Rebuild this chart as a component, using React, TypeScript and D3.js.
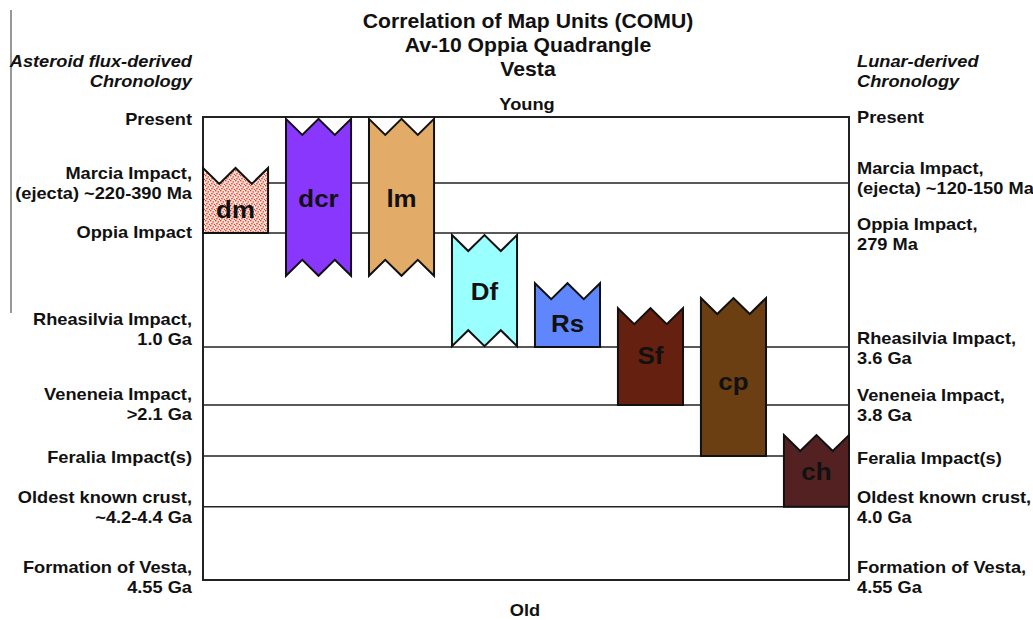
import * as d3 from "d3";

// relative age: 0 = Present (top), 100 = Formation of Vesta (bottom)
const levelAges = [0, 14.25, 25.05, 49.7, 62.2, 73.2, 84.2, 100];

const units = ["dm", "dcr", "lm", "Df", "Rs", "Sf", "cp", "ch"];
const unitTop = [11.0, 0.4, 0.4, 25.5, 35.9, 41.3, 39.1, 68.7];
const unitBottom = [25.05, 34.3, 34.3, 49.5, 49.7, 62.2, 73.2, 84.2];
const unitLabelAt = [19.9, 17.7, 17.7, 37.6, 44.5, 51.6, 57.2, 76.5];
const unitToothTop = [true, true, true, true, true, true, true, true];
const unitToothBottom = [false, true, true, true, false, false, false, false];
const unitColors = ["url(#stipple)", "#8936fd", "#e2ab67", "#99ffff", "#5f86fc", "#66200f", "#6b3f12", "#532121"];

const leftLabels = [
  ["Present"],
  ["Marcia Impact,", "(ejecta) ~220-390 Ma"],
  ["Oppia Impact"],
  ["Rheasilvia Impact,", "1.0 Ga"],
  ["Veneneia Impact,", ">2.1 Ga"],
  ["Feralia Impact(s)"],
  ["Oldest known crust,", "~4.2-4.4 Ga"],
  ["Formation of Vesta,", "4.55 Ga"],
];
const leftLabelAt = [1.73, 13.4, 26.1, 44.9, 61.1, 74.7, 83.4, 98.5];

const rightLabels = [
  ["Present"],
  ["Marcia Impact,", "(ejecta) ~120-150 Ma"],
  ["Oppia Impact,", "279 Ma"],
  ["Rheasilvia Impact,", "3.6 Ga"],
  ["Veneneia Impact,", "3.8 Ga"],
  ["Feralia Impact(s)"],
  ["Oldest known crust,", "4.0 Ga"],
  ["Formation of Vesta,", "4.55 Ga"],
];
const rightLabelAt = [1.3, 12.3, 24.4, 49.0, 61.3, 74.9, 83.4, 98.5];

const titleLines = ["Correlation of Map Units (COMU)", "Av-10 Oppia Quadrangle", "Vesta"];

const W = 1033;
const H = 620;
const frame = { left: 203, right: 849, top: 117, bottom: 580 };
const font = "'Liberation Sans', Arial, Helvetica, sans-serif";
const tooth = 16;
const lineGap = 20;
const stretch = 1.14; // the source figure is wider than its glyph height

function T({
  x,
  y,
  size,
  anchor = "start",
  italic = false,
  sx = stretch,
  children,
}: {
  x: number;
  y: number;
  size: number;
  anchor?: string;
  italic?: boolean;
  sx?: number;
  children: string;
}) {
  return (
    <text
      transform={`translate(${x},${y}) scale(${sx},1)`}
      textAnchor={anchor}
      fontSize={size}
      fontStyle={italic ? "italic" : "normal"}
      fill="#111"
    >
      {children}
    </text>
  );
}

export default function App() {
  const y = d3.scaleLinear().domain([0, 100]).range([frame.top, frame.bottom]);
  const x = d3
    .scaleBand<string>()
    .domain(units)
    .range([frame.left, frame.right])
    .paddingInner(0.216)
    .paddingOuter(0)
    .align(0);
  const bw = x.bandwidth();
  const line = d3.line();

  const boxPath = (i: number) => {
    const x0 = x(units[i])!;
    const x1 = x0 + bw;
    const yt = y(unitTop[i]);
    const yb = y(unitBottom[i]);
    const pts: [number, number][] = [];
    if (unitToothTop[i]) {
      pts.push([x0, yt], [x0 + bw / 4, yt + tooth], [x0 + bw / 2, yt], [x0 + (3 * bw) / 4, yt + tooth], [x1, yt]);
    } else {
      pts.push([x0, yt], [x1, yt]);
    }
    if (unitToothBottom[i]) {
      pts.push([x1, yb], [x0 + (3 * bw) / 4, yb - tooth], [x0 + bw / 2, yb], [x0 + bw / 4, yb - tooth], [x0, yb]);
    } else {
      pts.push([x1, yb], [x0, yb]);
    }
    return line(pts) + "Z";
  };

  return (
    <svg
      width={W}
      height={H}
      style={{ position: "absolute", left: 0, top: 0, background: "#fff" }}
      fontFamily={font}
      fontWeight="bold"
    >
      <defs>
        <pattern id="stipple" width="5" height="5" patternUnits="userSpaceOnUse">
          <rect width="5" height="5" fill="#fbe6df" />
          <rect x="0" y="0" width="1.4" height="1.4" fill="#e03d25" />
          <rect x="2.5" y="1.2" width="1.4" height="1.4" fill="#e03d25" />
          <rect x="1.2" y="3" width="1.4" height="1.4" fill="#e03d25" />
          <rect x="3.8" y="3.8" width="1.2" height="1.2" fill="#e03d25" />
        </pattern>
      </defs>

      <line x1={11} x2={11} y1={10} y2={313} stroke="#333" strokeWidth={1} />

      {titleLines.map((t, i) => (
        <T key={t} x={528} y={28 + i * 24} size={20} anchor="middle" sx={1.06}>
          {t}
        </T>
      ))}

      <T x={192} y={67} size={16} anchor="end" italic>
        Asteroid flux-derived
      </T>
      <T x={192} y={87} size={16} anchor="end" italic>
        Chronology
      </T>
      <T x={857} y={67} size={16} italic>
        Lunar-derived
      </T>
      <T x={857} y={87} size={16} italic>
        Chronology
      </T>

      <T x={527} y={110} size={16} anchor="middle">
        Young
      </T>
      <T x={525} y={616} size={16} anchor="middle">
        Old
      </T>

      {levelAges.slice(1, -1).map((a) => (
        <line key={a} x1={frame.left} x2={frame.right} y1={y(a)} y2={y(a)} stroke="#222" strokeWidth={1.5} />
      ))}
      <rect
        x={frame.left}
        y={frame.top}
        width={frame.right - frame.left}
        height={frame.bottom - frame.top}
        fill="none"
        stroke="#222"
        strokeWidth={2}
      />

      {units.map((u, i) => (
        <g key={u}>
          <path d={boxPath(i)} fill={unitColors[i]} stroke="#111" strokeWidth={2} strokeLinejoin="miter" />
          <T x={x(u)! + bw / 2} y={y(unitLabelAt[i]) + 8.5} size={24} anchor="middle" sx={1.08}>
            {u}
          </T>
        </g>
      ))}

      {leftLabels.map((lines, i) =>
        lines.map((t, j) => (
          <T key={`l${i}-${j}`} x={192} y={y(leftLabelAt[i]) + j * lineGap} size={16} anchor="end">
            {t}
          </T>
        ))
      )}
      {rightLabels.map((lines, i) =>
        lines.map((t, j) => (
          <T key={`r${i}-${j}`} x={857} y={y(rightLabelAt[i]) + j * lineGap} size={16}>
            {t}
          </T>
        ))
      )}
    </svg>
  );
}
